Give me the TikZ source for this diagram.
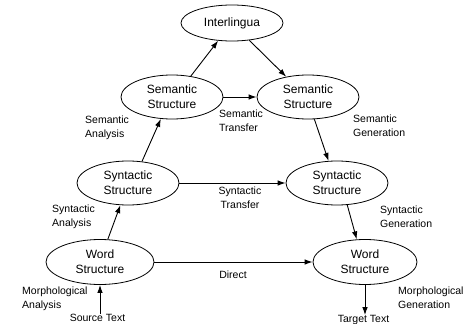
\documentclass[tikz,border=0pt]{standalone}
\usepackage{fontspec}
\setmainfont{Liberation Sans}
\usetikzlibrary{shapes.geometric,arrows.meta}
\begin{document}
\begin{tikzpicture}[x=1pt,y=-1pt,
  level/.style={ellipse,draw,line width=0.8pt,inner sep=0pt,
    minimum width=102pt,minimum height=44pt,align=center,
    font=\fontsize{12}{15}\selectfont},
  lbl/.style={inner sep=0pt,align=left,anchor=west,
    font=\fontsize{10.5}{14}\selectfont},
  flow/.style={-{Latex[length=8pt,width=5.5pt]},line width=0.9pt}]
\useasboundingbox (0,0) rectangle (472,324);

% levels of representation
\node[level,minimum height=36pt] (il) at (232,23) {Interlingua};
\node[level] (seml) at (172,97) {Semantic\\Structure};
\node[level] (semr) at (308,97) {Semantic\\Structure};
\node[level] (synl) at (128,183) {Syntactic\\Structure};
\node[level] (synr) at (337,183) {Syntactic\\Structure};
\node[level,minimum width=108pt,minimum height=45pt] (wl) at (100,262) {Word\\Structure};
\node[level,minimum width=104pt,minimum height=45pt] (wr) at (365,262) {Word\\Structure};

% texts at the ends
\node[lbl,anchor=center] (src) at (97.5,318) {Source Text};
\node[lbl,anchor=center] (tgt) at (363.5,320) {Target Text};

% analysis side
\draw[flow] (wl.south |- src.north) -- (wl.south);
\draw[flow] (wl.71) -- (synl.-109);
\draw[flow] (synl.57) -- (seml.-117);
\draw[flow] (seml.48) -- (il.-128);

% generation side
\draw[flow] (il.-45) -- (semr.137);
\draw[flow] (semr.-74) -- (synr.111);
\draw[flow] (synr.-65) -- (wr.110);
\draw[flow] (wr.south) -- (wr.south |- tgt.north);

% transfer
\draw[flow] (seml.east) -- (semr.west);
\draw[flow] (synl.east) -- (synr.west);
\draw[flow] (wl.east) -- (wr.west);

% step labels
\node[lbl] (la) at (85,127.5) {Semantic\\Analysis};
\node[lbl] (lb) at (219,120.5) {Semantic\\Transfer};
\node[lbl] (lc) at (353,126) {Semantic\\Generation};
\node[lbl] (ld) at (52,216.5) {Syntactic\\Analysis};
\node[lbl,align=center,anchor=center] (le) at (240,198) {Syntactic\\Transfer};
\node[lbl] (lf) at (380,217) {Syntactic\\Generation};
\node[lbl] (lg) at (22,299) {Morphological\\Analysis};
\node[lbl] (lh) at (398,297.5) {Morphological\\Generation};
\node[lbl,anchor=center] (li) at (233,275) {Direct};
\end{tikzpicture}
\end{document}
